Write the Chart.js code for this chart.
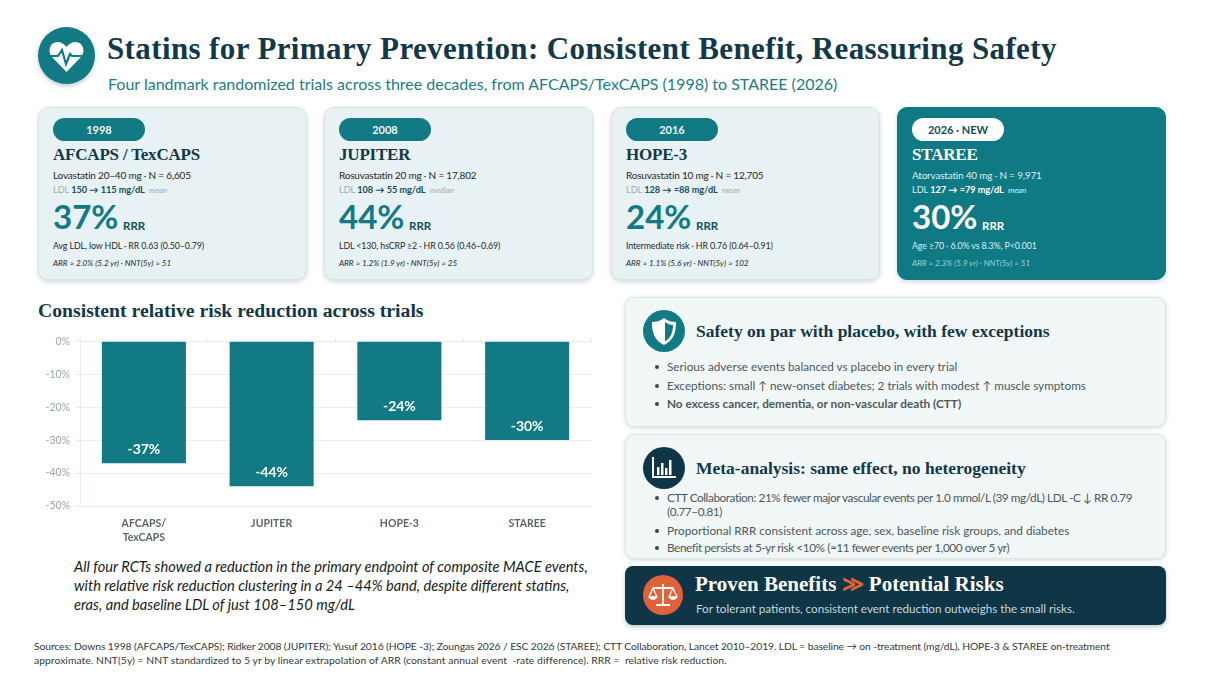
<!DOCTYPE html>
<html>
<head>
<meta charset="utf-8">
<title>Statins for Primary Prevention</title>
<script src="https://cdn.jsdelivr.net/npm/chart.js@4"></script>
<style>
    html, body { margin: 0; padding: 0; background: #fff; overflow: hidden; }
    body { width: 1205px; height: 678px; position: relative; font-family: Lato, sans-serif; color: #1d2b30; }
    .abs, .card, .panel { position: absolute; }
    .serif { font-family: "Liberation Serif", serif; font-weight: 700; color: #12384a; white-space: nowrap; }
    .line { position: absolute; left: 15px; white-space: nowrap; }

    .card { top: 107px; width: 269px; height: 173px; box-sizing: border-box; border-radius: 10px; background: #e8f1f3; border: 1px solid #d5e5e6; box-shadow: 0 2px 5px rgba(40,80,90,.22); }
    .pill { position: absolute; left: 14px; top: 10px; width: 92px; height: 23px; border-radius: 12px; background: #117a84; color: #eef7f8; font-size: 11px; font-weight: 700; text-align: center; line-height: 23px; }
    .name { position: absolute; left: 14px; top: 35px; font-size: 17px; letter-spacing: -.2px; line-height: 24px; }
    .dose { left: 14px; top: 60px; font-size: 10px; letter-spacing: -.2px; line-height: 14px; }
    .ldl { left: 14px; top: 75px; font-size: 9.2px; letter-spacing: -.05px; line-height: 14px; color: #9fb0b4; }
    .ldl b { color: #12505e; }
    .ldl i { font-size: 8px; margin-left: 2px; }
    .big { left: 14px; top: 87px; font-size: 33px; line-height: 42px; font-weight: 700; color: #117a84; }
    .rrr { left: 84px; top: 111px; font-size: 11.5px; line-height: 14px; font-weight: 700; color: #12505e; }
    .note { left: 14px; top: 131px; font-size: 8.8px; letter-spacing: -.1px; line-height: 14px; }
    .arr { left: 14px; top: 149px; font-size: 8.1px; line-height: 12px; font-style: italic; }

    .card.hot { background: #0f7a84; border-color: #0f7a84; color: #d9eef0; }
    .hot .pill { background: #fff; color: #12505e; }
    .hot .serif, .hot .big, .hot .rrr, .hot .ldl b { color: #fff; }
    .hot .ldl { color: #d9eef0; }
    .hot .arr { color: #9fd2d8; }

    .panel { left: 625px; width: 541px; box-sizing: border-box; border-radius: 9px; background: #f1f6f7; border: 1px solid #dbe6e7; box-shadow: 0 1px 4px rgba(40,80,90,.22); }
    .disc { position: absolute; border-radius: 50%; }
    .disc svg { position: absolute; left: 0; top: 0; width: 100%; height: 100%; }
    .panel h3 { position: absolute; left: 70px; margin: 0; font-size: 17.5px; line-height: 24px; }
    .panel ul { position: absolute; left: 0; margin: 0; padding: 0 0 0 41px; width: 490px; list-style: none; font-size: 11.75px; line-height: 14px; color: #4b5a60; }
    .panel li { position: relative; white-space: nowrap; }
    .panel li::before { content: ""; position: absolute; left: -12px; top: 5px; width: 4px; height: 4px; border-radius: 50%; background: #3a4a50; }

    .banner { position: absolute; left: 625px; top: 566px; width: 541px; height: 59px; border-radius: 8px; background: #0e3646; box-shadow: 0 2px 4px rgba(40,80,90,.3); }
</style>
</head>
<body>

<div class="disc" style="left:38px;top:27px;width:57px;height:57px;background:#117a84;box-shadow:0 2px 4px rgba(40,80,90,.3)">
    <svg viewBox="0 0 57 57">
        <path d="M28.5 45 L14 30 C9 24 12 15 19.500 15 C23 15 26.5 17 28.5 20 C30.5 17 34 15 37.500 15 C45 15 48 24 43 30 Z" fill="#fff"/>
        <path d="M11 29 H20 L24 23 L28 37 L32 27 L34 29 H46" fill="none" stroke="#117a84" stroke-width="2.2"/>
    </svg>
</div>
<div class="abs serif" style="left:107px;top:30px;font-size:31px;line-height:38px;letter-spacing:.38px">Statins for Primary Prevention: Consistent Benefit, Reassuring Safety</div>
<div class="abs" style="left:108px;top:73px;font-size:16px;line-height:22px;color:#1b7d86;white-space:nowrap">Four landmark randomized trials across three decades, from AFCAPS/TexCAPS (1998) to STAREE (2026)</div>

<div class="card" style="left:38px">
    <div class="pill">1998</div>
    <div class="name serif">AFCAPS / TexCAPS</div>
    <div class="line dose">Lovastatin 20–40 mg · N = 6,605</div>
    <div class="line ldl">LDL <b>150 → 115 mg/dL</b> <i>mean</i></div>
    <div class="line big">37%</div>
    <div class="line rrr">RRR</div>
    <div class="line note">Avg LDL, low HDL · RR 0.63 (0.50–0.79)</div>
    <div class="line arr">ARR ≈ 2.0% (5.2 yr) · NNT(5y) ≈ 51</div>
</div>
<div class="card" style="left:324px">
    <div class="pill">2008</div>
    <div class="name serif">JUPITER</div>
    <div class="line dose">Rosuvastatin 20 mg · N = 17,802</div>
    <div class="line ldl">LDL <b>108 → 55 mg/dL</b> <i>median</i></div>
    <div class="line big">44%</div>
    <div class="line rrr">RRR</div>
    <div class="line note">LDL &lt;130, hsCRP ≥2 · HR 0.56 (0.46–0.69)</div>
    <div class="line arr">ARR ≈ 1.2% (1.9 yr) · NNT(5y) ≈ 25</div>
</div>
<div class="card" style="left:611px">
    <div class="pill">2016</div>
    <div class="name serif">HOPE-3</div>
    <div class="line dose">Rosuvastatin 10 mg · N = 12,705</div>
    <div class="line ldl">LDL <b>128 → ≈88 mg/dL</b> <i>mean</i></div>
    <div class="line big">24%</div>
    <div class="line rrr">RRR</div>
    <div class="line note">Intermediate risk · HR 0.76 (0.64–0.91)</div>
    <div class="line arr">ARR ≈ 1.1% (5.6 yr) · NNT(5y) ≈ 102</div>
</div>
<div class="card hot" style="left:897px">
    <div class="pill">2026 · NEW</div>
    <div class="name serif">STAREE</div>
    <div class="line dose">Atorvastatin 40 mg · N = 9,971</div>
    <div class="line ldl">LDL <b>127 → ≈79 mg/dL</b> <i>mean</i></div>
    <div class="line big">30%</div>
    <div class="line rrr">RRR</div>
    <div class="line note">Age ≥70 · 6.0% vs 8.3%, P&lt;0.001</div>
    <div class="line arr">ARR ≈ 2.3% (5.9 yr) · NNT(5y) ≈ 51</div>
</div>

<div class="abs serif" style="left:38px;top:298px;font-size:19.7px;line-height:24px">Consistent relative risk reduction across trials</div>
<canvas id="rrrChart" class="abs" style="left:38px;top:330px" width="560" height="222"></canvas>
<div class="abs" style="left:74px;top:557px;font-size:14.65px;line-height:19px;font-style:italic;color:#1a1a1a;white-space:nowrap">All four RCTs showed a reduction in the primary endpoint of composite MACE events,<br>with relative risk reduction clustering in a 24 –44% band, despite different statins,<br>eras, and baseline LDL of just 108–150 mg/dL</div>

<div class="panel" style="top:297px;height:130px">
    <div class="disc" style="left:17px;top:12px;width:42px;height:42px;background:#117a84">
        <svg viewBox="0 0 42 42">
            <path d="M21 8 C25 11 29 12 33 12 C33 22 31 30 21 35 C11 30 9 22 9 12 C13 12 17 11 21 8 Z" fill="#fff"/>
            <path d="M22 12 C25 14 27 15 30 15 C30 22 28 28 22 31.500 Z" fill="#117a84"/>
        </svg>
    </div>
    <h3 class="serif" style="top:21px">Safety on par with placebo, with few exceptions</h3>
    <ul style="top:62px">
        <li style="height:19px">Serious adverse events balanced vs placebo in every trial</li>
        <li style="height:18px">Exceptions: small ↑ new-onset diabetes; 2 trials with modest ↑ muscle symptoms</li>
        <li><b>No excess cancer, dementia, or non-vascular death (CTT)</b></li>
    </ul>
</div>
<div class="panel" style="top:434px;height:125px">
    <div class="disc" style="left:17px;top:12px;width:42px;height:42px;background:#0e3646">
        <svg viewBox="0 0 42 42">
            <path d="M10 10 V30 H33" fill="none" stroke="#fff" stroke-width="2"/>
            <path d="M14 20h2.500v8H14z M18 16h2.500v12H18z M22 21h2.500v7H22z M26 13h2.500v15H26z" fill="#fff"/>
        </svg>
    </div>
    <h3 class="serif" style="top:21px">Meta-analysis: same effect, no heterogeneity</h3>
    <ul style="top:56px">
        <li style="height:33px;letter-spacing:-.42px">CTT Collaboration: 21% fewer major vascular events per 1.0 mmol/L (39 mg/dL) LDL -C ↓ RR 0.79<br>(0.77–0.81)</li>
        <li style="height:17px">Proportional RRR consistent across age, sex, baseline risk groups, and diabetes</li>
        <li style="letter-spacing:-.4px">Benefit persists at 5-yr risk &lt;10% (≈11 fewer events per 1,000 over 5 yr)</li>
    </ul>
</div>
<div class="banner">
    <div class="disc" style="left:18px;top:9px;width:40px;height:40px;background:#e0623a">
        <svg viewBox="0 0 40 40">
            <path d="M20 9 V29 M13 30 H27 M10 13 H30" fill="none" stroke="#fff" stroke-width="1.8"/>
            <path d="M6 22 L10 13 L14 22 Z M26 22 L30 13 L34 22 Z" fill="none" stroke="#fff" stroke-width="1.300"/>
            <path d="M6 22 C7 26 13 26 14 22 Z M26 22 C27 26 33 26 34 22 Z" fill="#fff"/>
        </svg>
    </div>
    <div class="abs serif" style="left:70px;top:5px;font-size:21px;line-height:27px;color:#fff">Proven Benefits <span style="color:#e0623a">≫</span> Potential Risks</div>
    <div class="abs" style="left:71px;top:35px;font-size:11.65px;line-height:16px;color:#c6d8dc;white-space:nowrap">For tolerant patients, consistent event reduction outweighs the small risks.</div>
</div>

<div class="abs" style="left:34px;top:639px;font-size:10.3px;line-height:14px;color:#2f3a3e;white-space:pre"><span style="letter-spacing:-.08px">Sources: Downs 1998 (AFCAPS/TexCAPS); Ridker 2008 (JUPITER); Yusuf 2016 (HOPE -3); Zoungas 2026 / ESC 2026 (STAREE); CTT Collaboration, Lancet 2010–2019. LDL = baseline → on -treatment (mg/dL), HOPE-3 &amp; STAREE on-treatment</span>
<span style="letter-spacing:.07px">approximate. NNT(5y) = NNT standardized to 5 yr by linear extrapolation of ARR (constant annual event  -rate difference). RRR =  relative risk reduction.</span></div>

<script>
const trials = [['AFCAPS/', 'TexCAPS'], 'JUPITER', 'HOPE-3', 'STAREE'];
const rrrValues = [-37, -44, -24, -30];
const barLabels = ['-37%', '-44%', '-24%', '-30%'];
const yTickLabels = ['-50%', '-40%', '-30%', '-20%', '-10%', '0%'];

// value labels inside the bars, small ticks on the zero line
const barExtras = {
    id: 'barExtras',
    afterDatasetsDraw(chart) {
        const ctx = chart.ctx;
        const y0 = chart.scales.y.getPixelForValue(0);
        ctx.save();
        ctx.strokeStyle = '#dfe7e8';
        for (let i = 0; i <= trials.length; i++) {
            const px = chart.chartArea.left + i * chart.chartArea.width / trials.length;
            ctx.beginPath();
            ctx.moveTo(px, y0 - 3);
            ctx.lineTo(px, y0);
            ctx.stroke();
        }
        ctx.fillStyle = '#fff';
        ctx.font = '700 14px Lato';
        ctx.textAlign = 'center';
        ctx.textBaseline = 'middle';
        chart.getDatasetMeta(0).data.forEach(function(bar, i) {
            ctx.fillText(barLabels[i], bar.x, bar.y - 14);
        });
        ctx.restore();
    }
};

new Chart(document.getElementById('rrrChart'), {
    type: 'bar',
    data: {
        labels: trials,
        datasets: [{
            data: rrrValues,
            backgroundColor: '#117a84',
            barPercentage: 0.658,
            categoryPercentage: 1
        }]
    },
    options: {
        responsive: false,
        animation: false,
        layout: { padding: { top: 11, right: 7, bottom: 0, left: 0 } },
        plugins: { legend: { display: false }, tooltip: { enabled: false } },
        scales: {
            x: {
                grid: { display: false },
                border: { display: false },
                afterFit: function(scale) { scale.height = 46; },
                ticks: { color: '#5a666a', font: { family: 'Lato', size: 10.5, weight: '700', lineHeight: 1.4 }, padding: 2, maxRotation: 0 }
            },
            y: {
                min: -50,
                max: 0,
                afterFit: function(scale) { scale.width = 42; },
                grid: { color: '#e8eeee', lineWidth: 1, tickLength: 5 },
                border: { color: '#e8eeee' },
                ticks: {
                    stepSize: 10,
                    color: '#9aa6aa',
                    font: { family: 'Lato', size: 10.5 },
                    padding: 5,
                    callback: function(value, index) { return yTickLabels[index]; }
                }
            }
        }
    },
    plugins: [barExtras]
});
</script>
</body>
</html>
